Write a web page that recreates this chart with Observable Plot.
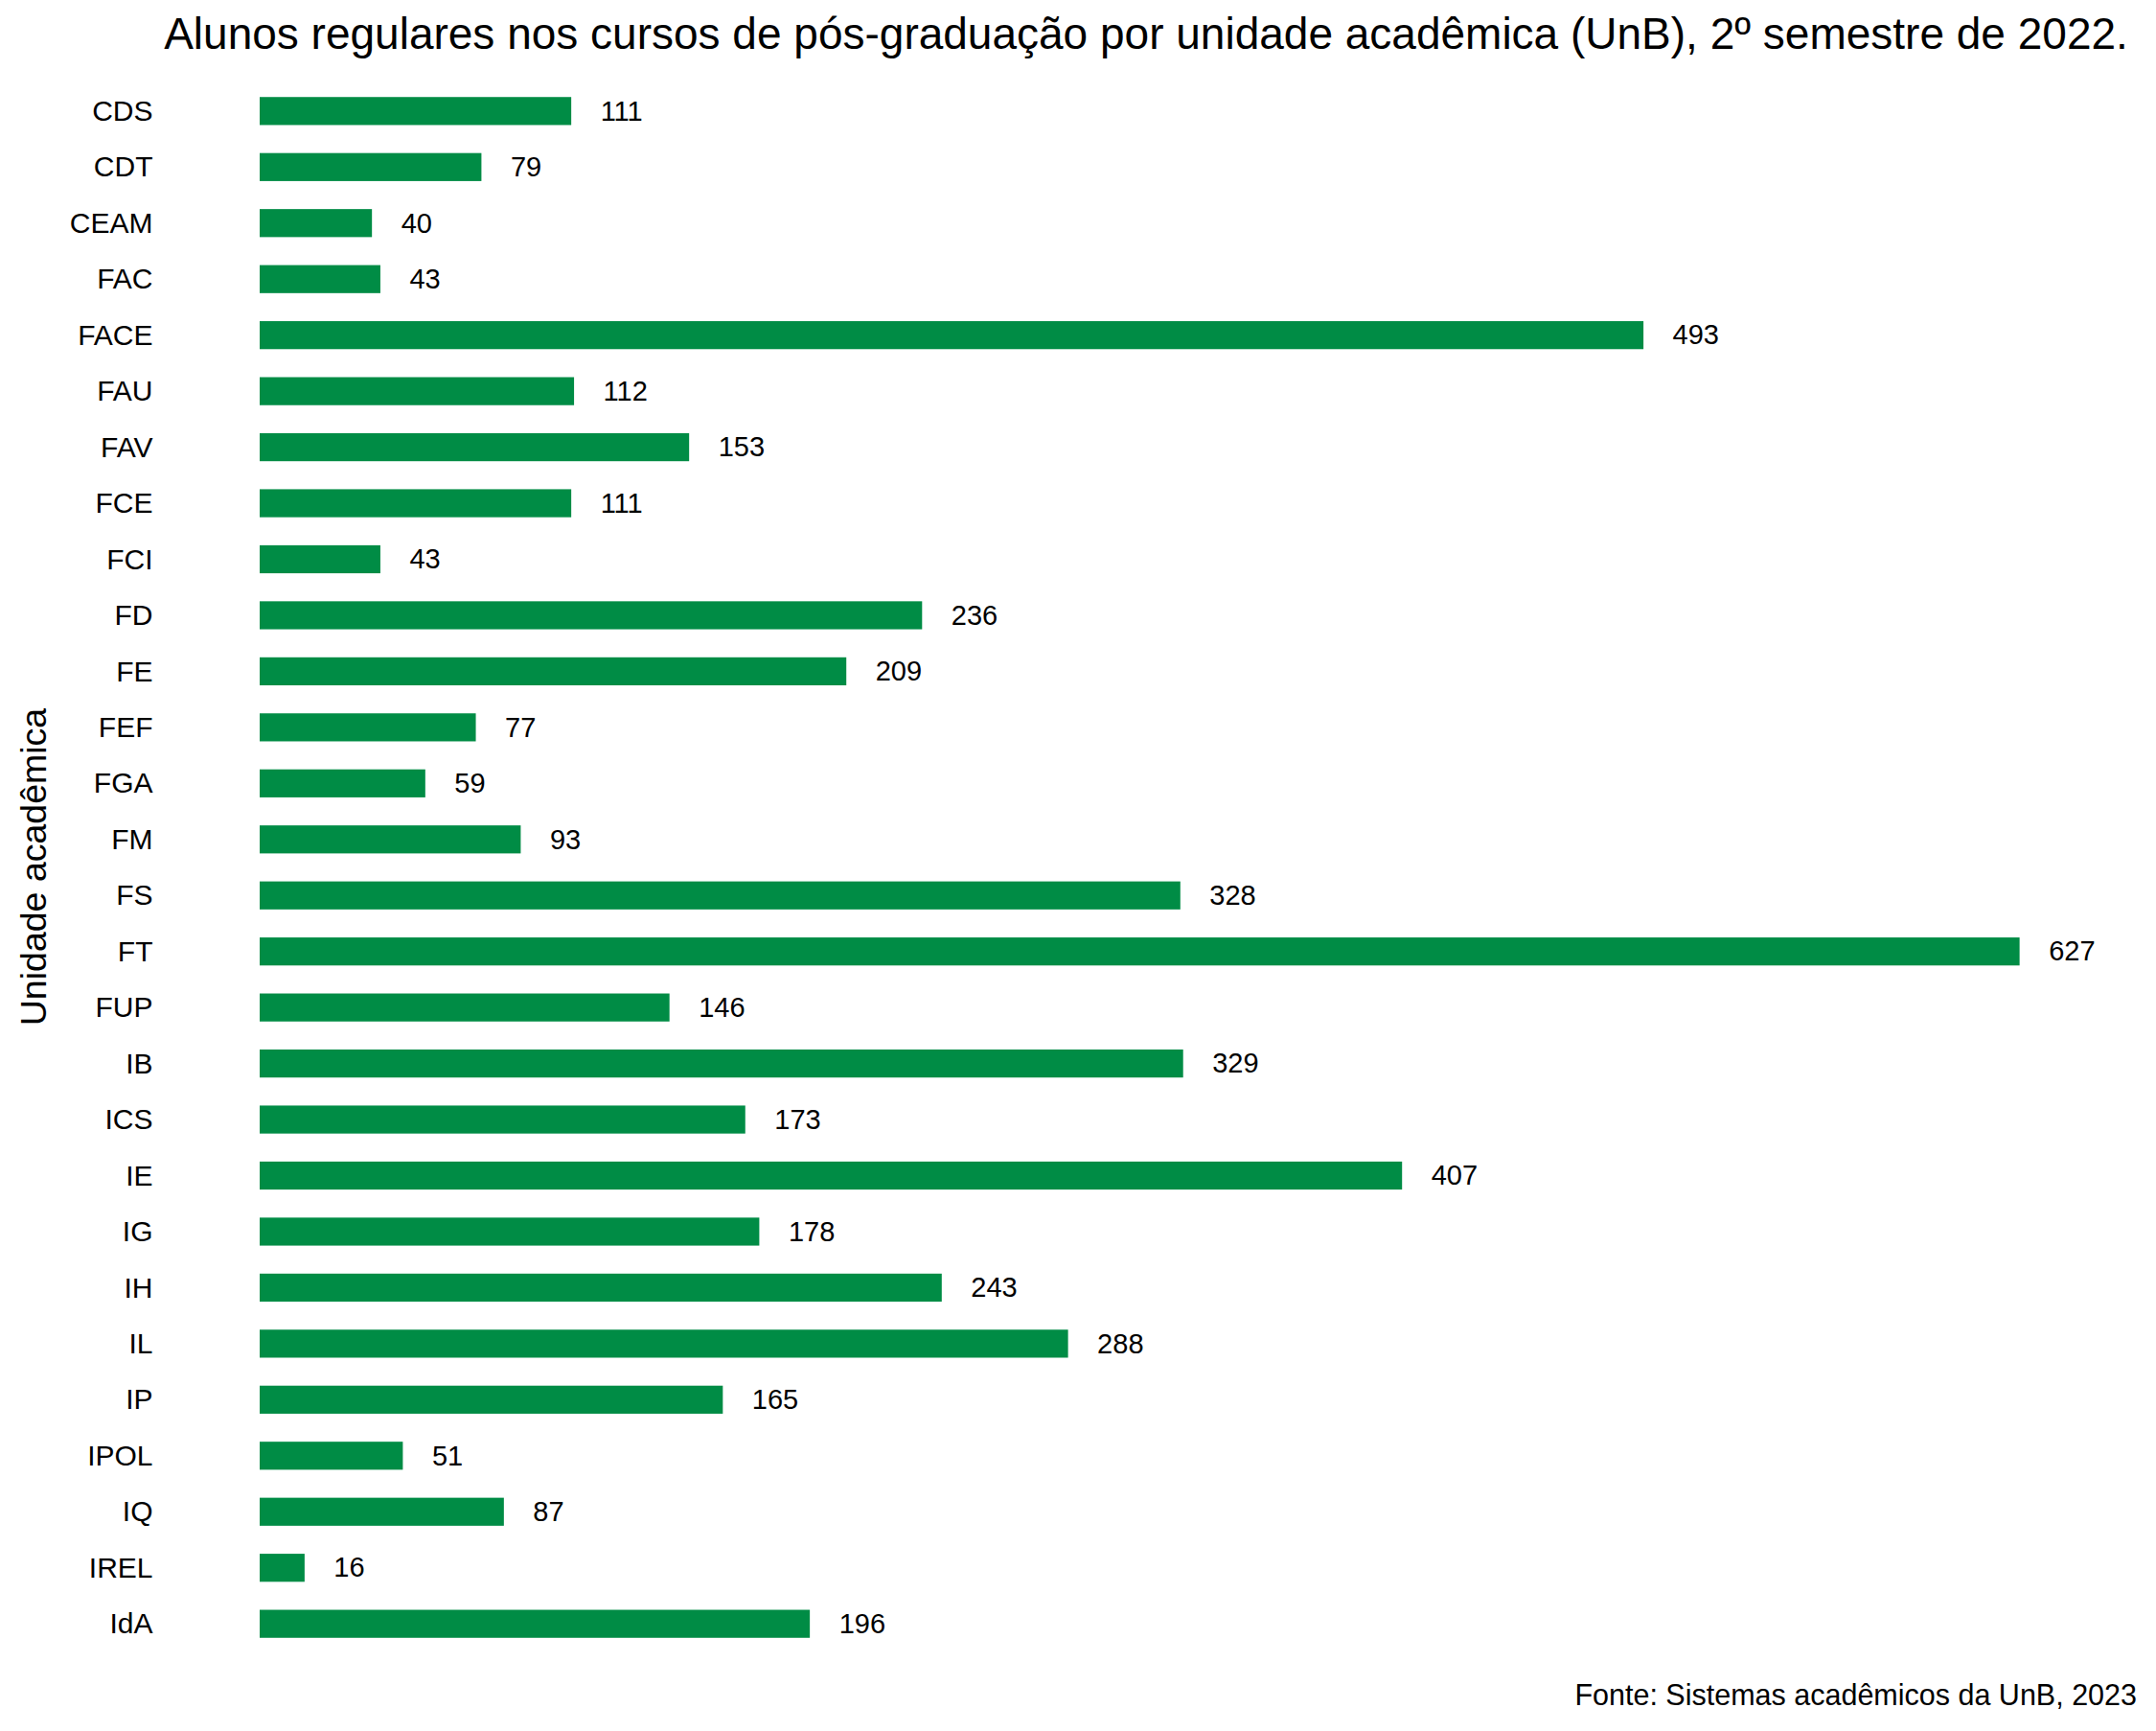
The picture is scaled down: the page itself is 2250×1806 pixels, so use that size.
<!DOCTYPE html>
<html>
<head>
<meta charset="utf-8">
<script src="https://cdn.jsdelivr.net/npm/d3@7"></script>
<script src="https://cdn.jsdelivr.net/npm/@observablehq/plot@0.6"></script>
<style>
  html, body { margin: 0; padding: 0; background: #fff; }
  body { width: 2250px; height: 1806px; position: relative; overflow: hidden;
         font-family: "Liberation Sans", Arial, Helvetica, sans-serif; color: #000; }
  #title { position: absolute; top: 12px; left: 142px; right: 0; text-align: center;
           font-size: 46px; line-height: 46px; white-space: nowrap; }
  #chart { position: absolute; top: 70px; left: 0; }
  #caption { position: absolute; top: 1753px; right: 20px; font-size: 30.5px; line-height: 30.5px; white-space: nowrap; }
</style>
</head>
<body>
<div id="title">Alunos regulares nos cursos de pós-graduação por unidade acadêmica (UnB), 2º semestre de 2022.</div>
<div id="chart"></div>
<div id="caption">Fonte: Sistemas acadêmicos da UnB, 2023</div>
<script>
const units = ["CDS","CDT","CEAM","FAC","FACE","FAU","FAV","FCE","FCI","FD","FE","FEF","FGA","FM","FS","FT","FUP","IB","ICS","IE","IG","IH","IL","IP","IPOL","IQ","IREL","IdA"];
const alunos = [111,79,40,43,493,112,153,111,43,236,209,77,59,93,328,627,146,329,173,407,178,243,288,165,51,87,16,196];
const yTitle = "Unidade acadêmica";

const data = units.map((u, i) => ({unit: u, value: alunos[i]}));

const chart = Plot.plot({
  width: 2250,
  height: 1680,
  marginLeft: 271,
  marginRight: 75,
  marginTop: 2,
  marginBottom: 12,
  style: {fontFamily: "'Liberation Sans', Arial, Helvetica, sans-serif", fontSize: "29px", color: "#000", background: "#fff"},
  x: {domain: [0, 650], axis: null},
  y: {domain: units, padding: 0.5, round: false, axis: null},
  marks: [
    Plot.barX(data, {x: "value", y: "unit", fill: "#008C45"}),
    Plot.text(data, {x: "value", y: "unit", text: d => String(d.value), textAnchor: "start", dx: 30, fontSize: 29, fill: "#000"}),
    Plot.axisY({tickSize: 0, tickPadding: 112, fontSize: 30, label: null}),
    Plot.text([yTitle], {frameAnchor: "left", text: d => d, rotate: -90, textAnchor: "middle", lineAnchor: "middle", dx: -236, dy: -1, fontSize: 37.5, fill: "#000"})
  ]
});
document.getElementById("chart").appendChild(chart);
</script>
</body>
</html>
